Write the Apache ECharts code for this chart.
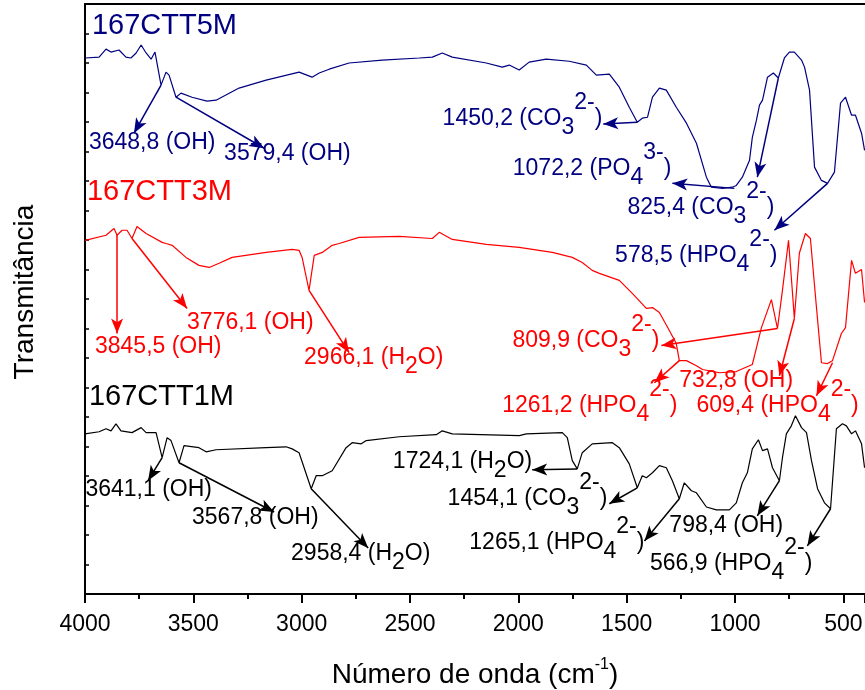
<!DOCTYPE html>
<html><head><meta charset="utf-8">
<script src="https://cdn.jsdelivr.net/npm/echarts@6/dist/echarts.min.js"></script>
<style>html,body{margin:0;padding:0;background:#fff}#c{width:865px;height:690px}</style>
</head><body><div id="c"></div>
<script>
// ---- spectra (wavenumber cm-1, transmittance in offset arbitrary units) ----
const wn5M = [4000,3935,3903,3880,3843,3811,3788,3764,3741,3718,3695,3677,3649,3626,3612,3580,3557,3506,3437,3395,3289,3164,3012,2952,2919,2873,2781,2628,2457,2397,2351,2305,2148,2074,2042,1996,1950,1871,1765,1686,1640,1580,1534,1488,1451,1428,1404,1381,1349,1317,1271,1224,1178,1132,1109,1058,1012,994,966,933,920,901,887,873,850,823,800,772,749,726,693,679,656,633,601,573,541,513,490,462,444,416,402];
const t5M = [18.17,18.20,18.47,18.37,18.44,18.20,18.17,18.34,18.61,18.34,18.13,18.37,17.25,17.69,17.59,16.84,16.98,16.84,16.71,16.74,17.15,17.42,17.69,17.52,17.66,17.79,18.00,18.10,18.17,18.20,18.34,18.20,18.00,17.86,17.93,17.76,18.03,18.13,18.06,17.93,17.59,17.62,17.18,16.50,15.99,16.13,16.16,16.84,17.15,17.08,16.50,15.96,15.28,14.13,13.79,13.75,13.79,13.85,14.13,14.70,15.48,16.06,16.57,16.74,17.52,17.66,17.49,18.17,18.37,18.37,18.10,17.86,17.08,14.47,14.02,13.92,14.30,16.64,16.84,16.23,16.23,15.62,15.04];

const wn3M = [4000,3903,3866,3852,3829,3806,3783,3760,3718,3644,3626,3598,3534,3474,3427,3381,3321,3164,3044,3012,2998,2966,2942,2905,2859,2827,2735,2550,2397,2365,2305,2148,1996,1843,1751,1705,1659,1626,1534,1474,1409,1381,1349,1303,1271,1257,1224,1178,1150,1072,994,920,878,832,804,781,753,740,726,703,675,652,624,601,573,550,509,490,462,444,416,402];
const t3M = [11.99,12.16,12.39,12.16,12.33,12.33,12.05,12.46,12.22,11.92,11.88,11.82,11.41,11.14,11.07,11.21,11.41,11.58,11.68,11.65,11.41,10.29,11.48,11.58,11.82,11.88,12.09,12.12,12.05,12.26,12.02,11.85,11.75,11.58,11.41,11.24,10.97,10.87,10.63,10.19,9.68,9.71,9.54,8.93,8.49,7.91,7.91,7.74,7.61,7.50,7.54,7.78,9.03,9.98,9.00,10.29,11.99,10.73,9.34,11.55,12.22,12.05,9.71,7.84,7.81,7.91,8.83,9.03,11.31,10.87,11.00,9.88];

const wn1M = [4000,3935,3903,3880,3857,3834,3783,3741,3718,3672,3644,3621,3603,3566,3543,3474,3441,3395,3164,3072,3044,3012,2956,2933,2905,2859,2795,2767,2725,2702,2550,2379,2351,2305,1996,1963,1797,1774,1751,1728,1705,1659,1566,1534,1488,1451,1428,1409,1381,1349,1317,1289,1257,1234,1201,1178,1132,1086,1026,994,966,943,920,892,873,850,827,795,781,763,740,721,693,670,647,619,587,559,532,504,486,462,444,416,402];
const t1M = [5.43,5.50,5.60,5.53,5.77,5.53,5.47,5.64,5.47,5.47,4.62,5.30,5.20,4.45,5.03,4.96,4.82,4.89,4.96,4.99,4.92,4.79,3.57,4.01,4.01,4.18,4.96,5.13,5.09,5.20,5.33,5.40,5.53,5.43,5.37,5.43,5.47,5.30,4.52,4.24,4.79,5.09,5.13,4.96,4.41,3.60,4.01,3.94,4.11,4.35,4.28,3.84,3.23,3.77,3.50,3.43,2.95,2.85,2.85,3.09,3.77,4.11,4.92,5.23,4.86,4.92,4.28,3.84,4.62,5.43,5.70,6.04,5.64,5.47,4.52,3.57,3.09,2.89,5.60,5.77,5.70,5.43,5.53,5.09,4.28];

const seriesNames = ['167CTT5M','167CTT3M','167CTT1M'];

// ---- peak annotation texts ----
const labels5M = ['3648,8 (OH)','3579,4 (OH)','1450,2 (CO{sub|3}{sup|2-})','1072,2 (PO{sub|4}{sup|3-})','825,4 (CO{sub|3}{sup|2-})','578,5 (HPO{sub|4}{sup|2-})'];
const labels3M = ['3845,5 (OH)','3776,1 (OH)','2966,1 (H{sub|2}O)','809,9 (CO{sub|3}{sup|2-})','1261,2 (HPO{sub|4}{sup|2-})','732,8 (OH)','609,4 (HPO{sub|4}{sup|2-})'];
const labels1M = ['3641,1 (OH)','3567,8 (OH)','2958,4 (H{sub|2}O)','1724,1 (H{sub|2}O)','1454,1 (CO{sub|3}{sup|2-})','1265,1 (HPO{sub|4}{sup|2-})','798,4 (OH)','566,9 (HPO{sub|4}{sup|2-})'];

// ---- annotation layout (data coordinates): arrow [from, to], label anchor [x, y, side] ----
const arrows5M = [[[3649,17.25],[3774,15.62]],[[3580,16.84],[3173,15.11]],[[1451,15.99],[1608,15.93]],[[1003,13.75],[1289,13.92]],[[800,17.49],[897,14.13]],[[573,13.92],[818,12.33]]];
const labelAt5M = [[3982,15.31,'L'],[3358,14.94,'L'],[1612,16.10,'R'],[1294,14.43,'R'],[818,13.11,'R'],[804,11.48,'R']];
const arrows3M = [[[3852,12.2],[3852,8.83]],[[3783,12.05],[3529,9.68]],[[2966,10.29],[2781,8.18]],[[804,9.00],[1340,8.42]],[[1257,7.91],[1372,7.16]],[[726,9.34],[795,7.40]],[[550,7.84],[624,6.72]]];
const labelAt3M = [[3954,8.39,'L'],[3529,9.20,'L'],[2989,8.01,'L'],[1349,8.59,'R'],[1266,6.38,'R'],[1257,7.23,'L'],[1178,6.38,'L']];
const arrows1M = [[[3644,4.62],[3709,3.84]],[[3566,4.45],[3127,2.78]],[[2956,3.57],[2693,1.56]],[[1728,4.24],[1936,4.21]],[[1451,3.60],[1580,3.06]],[[1257,3.23],[1418,1.80]],[[795,3.84],[897,2.65]],[[559,2.89],[666,1.63]]];
const labelAt1M = [[3998,3.53,'L'],[3506,2.58,'L'],[3049,1.36,'L'],[1936,4.48,'R'],[1589,3.23,'R'],[1418,1.73,'R'],[1303,2.31,'L'],[643,1.02,'R']];
const titleAt = [[3968,19.25],[3991,13.62],[3982,6.69]];

const FONT = '"Liberation Sans", Arial, Helvetica, sans-serif';
const colors = ['#000080','#ff0000','#000000'];

function zip(a,b){return a.map((x,i)=>[x,b[i]]);}

function makeSeries(name,color,wn,t,labels,arrows,labelAt,titlePos){
  const rich = {
    sub:{fontSize:23,fontFamily:FONT,color:color,height:42,verticalAlign:'bottom'},
    sup:{fontSize:23,fontFamily:FONT,color:color,height:28,verticalAlign:'top'}
  };
  const points = labels.map((s,i)=>({
    name:s, coord:[labelAt[i][0],labelAt[i][1]],
    label:{show:true, position: labelAt[i][2]==='L'?'right':'left', distance:0,
      formatter:()=>s, fontSize:23, fontFamily:FONT, color:color, lineHeight:60, rich:rich}
  }));
  points.push({name:name, coord:titlePos,
    label:{show:true, position:'right', distance:0, formatter:()=>name, fontSize:29, fontFamily:FONT, color:color}});
  return {
    type:'line', name:name, data:zip(wn,t), symbol:'none', showSymbol:false, silent:true,
    lineStyle:{color:color,width:1.2}, itemStyle:{color:color},
    emphasis:{disabled:true},
    markLine:{silent:true, symbol:['none','arrow'], symbolSize:[9,15], precision:4,
      lineStyle:{color:color,width:1.5,type:'solid'}, label:{show:false}, emphasis:{disabled:true},
      data: arrows.map(a=>[{coord:a[0]},{coord:a[1]}])},
    markPoint:{silent:true, symbol:'circle', symbolSize:0, itemStyle:{color:'rgba(0,0,0,0)'},
      emphasis:{disabled:true}, data:points}
  };
}

const chart = echarts.init(document.getElementById('c'));
chart.setOption({
  animation:false,
  backgroundColor:'#ffffff',
  grid:{left:85,right:0,top:4,bottom:96,containLabel:false,outerBoundsMode:'none'},
  xAxis:[
    {type:'value',min:400,max:4000,inverse:true,splitNumber:7,minInterval:500,maxInterval:500,position:'bottom',
     axisLine:{onZero:false,lineStyle:{color:'#000',width:2}},
     axisTick:{show:true,length:9,lineStyle:{color:'#000',width:2}},
     axisLabel:{fontSize:23,fontFamily:FONT,color:'#000',margin:19,formatter:v=>v===400?'':String(v)},
     splitLine:{show:false},
     name:'Número de onda (cm{sup|-1})',nameLocation:'middle',nameGap:64,
     nameTextStyle:{fontSize:28,fontFamily:FONT,color:'#000',lineHeight:34,
       rich:{sup:{fontSize:16,fontFamily:FONT,color:'#000',height:14,verticalAlign:'top'}}}},
    {type:'value',min:400,max:4000,inverse:true,splitNumber:14,minInterval:250,maxInterval:250,position:'bottom',
     axisLine:{show:false,onZero:false},axisTick:{show:true,length:5,lineStyle:{color:'#000',width:2}},
     axisLabel:{show:false},splitLine:{show:false}},
    {type:'value',min:400,max:4000,inverse:true,position:'top',
     axisLine:{show:true,onZero:false,lineStyle:{color:'#000',width:2}},axisTick:{show:false},
     axisLabel:{show:false},splitLine:{show:false}}
  ],
  yAxis:{type:'value',min:0,max:20,interval:1,
    axisLine:{show:true,onZero:false,lineStyle:{color:'#000',width:2}},
    axisTick:{show:true,inside:true,length:4,lineStyle:{color:'#000',width:1.5}},
    axisLabel:{show:false},splitLine:{show:false},
    name:'Transmitância',nameLocation:'middle',nameGap:46,nameRotate:90,
    nameTextStyle:{fontSize:28,fontFamily:FONT,color:'#000',padding:[0,0,0,14]}},
  series:[
    makeSeries(seriesNames[0],colors[0],wn5M,t5M,labels5M,arrows5M,labelAt5M,titleAt[0]),
    makeSeries(seriesNames[1],colors[1],wn3M,t3M,labels3M,arrows3M,labelAt3M,titleAt[1]),
    makeSeries(seriesNames[2],colors[2],wn1M,t1M,labels1M,arrows1M,labelAt1M,titleAt[2])
  ]
});
</script></body></html>
